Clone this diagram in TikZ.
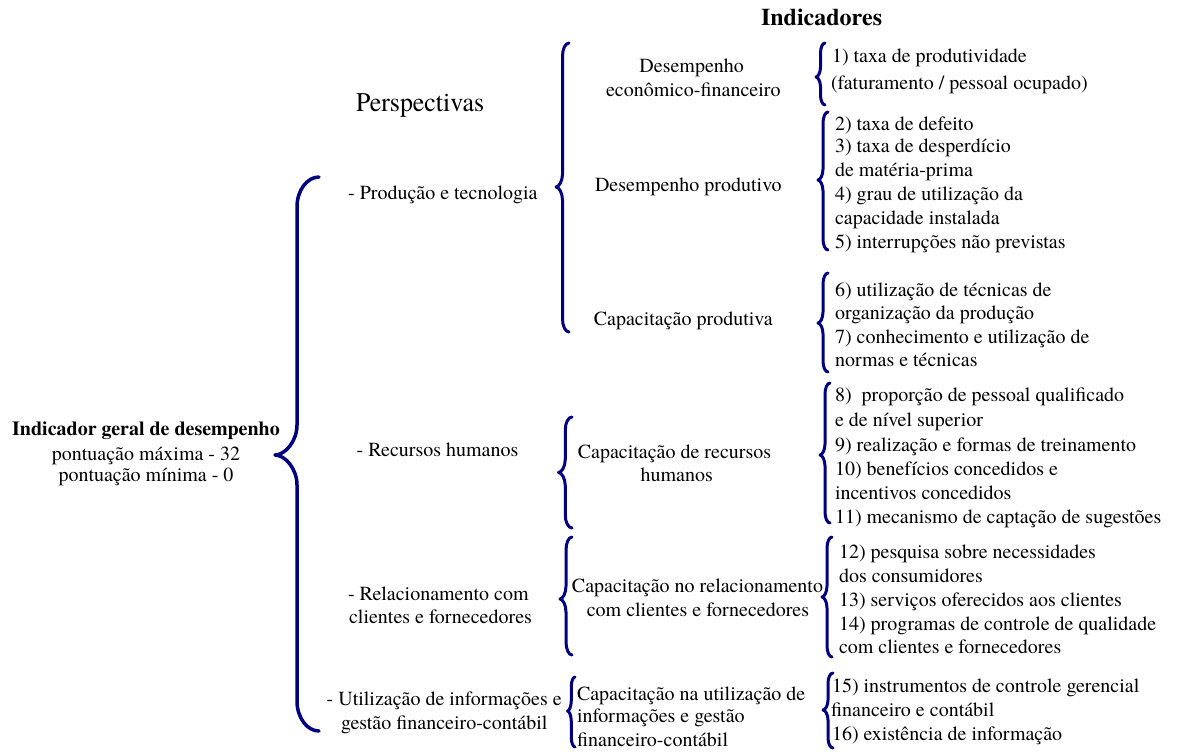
\documentclass[tikz,border=0pt]{standalone}
\usepackage{fontspec}
\setmainfont{TeX Gyre Termes}
\definecolor{bracenavy}{RGB}{0,0,128}

% Curly brace opening to the right: tip x, top y, bottom y, tip y, end x, curl radius
\newcommand{\bracepath}[7][]{%
  \pgfmathsetmacro{\bxm}{(#2+#6)/2}%
  \pgfmathsetmacro{\bdx}{(#6-#2)/2}%
  \draw[brace line,#1] (#6,#3)
    .. controls ({\bxm+0.45*\bdx},#3) and (\bxm,{#3+0.45*#7}) .. (\bxm,{#3+#7})
    -- (\bxm,{#5-#7})
    .. controls (\bxm,{#5-0.45*#7}) and ({#2+0.45*\bdx},#5) .. (#2,#5)
    .. controls ({#2+0.45*\bdx},#5) and (\bxm,{#5+0.45*#7}) .. (\bxm,{#5+#7})
    -- (\bxm,{#4-#7})
    .. controls (\bxm,{#4-0.45*#7}) and ({\bxm+0.45*\bdx},#4) .. (#6,#4);
}

\begin{document}
\begin{tikzpicture}[x=1pt,y=-1pt,
  brace line/.style={draw=bracenavy,line width=3pt,line cap=round,line join=round},
  txt/.style={inner sep=0pt,outer sep=0pt,font=\fontsize{20}{23}\selectfont},
  ctr/.style={txt,anchor=base},
  lft/.style={txt,anchor=base west}]
\useasboundingbox (0,0) rectangle (1180,753);

% headings
\node[txt,anchor=base west,font=\fontsize{24}{28}\selectfont\bfseries] (hind) at (761,25) {Indicadores};
\node[txt,anchor=base west,font=\fontsize{27}{30}\selectfont] (hper) at (356,111.7) {\scalebox{0.96}[1]{Perspectivas}};

% overall indicator
\node[ctr,font=\fontsize{20}{23}\selectfont\bfseries] (g1) at (146,435) {Indicador geral de desempenho};
\node[ctr] (g2) at (146,460) {pontuação máxima - 32};
\node[ctr] (g3) at (146,481.7) {pontuação mínima - 0};

% perspectives
\node[ctr] (p1) at (442.8,199.3) {- Produção e tecnologia};
\node[ctr] (p2) at (437.5,456.7) {- Recursos humanos};
\node[ctr] (p3a) at (438.3,600) {- Relacionamento com};
\node[ctr] (p3b) at (440.5,623.3) {clientes e fornecedores};
\node[ctr] (p4a) at (444.2,705) {- Utilização de informações e};
\node[ctr] (p4b) at (444.2,729.3) {gestão financeiro-contábil};

% sub-perspectives
\node[ctr] (s1a) at (691.7,72.7) {Desempenho};
\node[ctr] (s1b) at (693.3,96.7) {econômico-financeiro};
\node[ctr] (s2) at (688.3,191.7) {Desempenho produtivo};
\node[ctr] (s3) at (683.3,325) {Capacitação produtiva};
\node[ctr] (s4a) at (674.5,458.3) {Capacitação de recursos};
\node[ctr] (s4b) at (676.7,481) {humanos};
\node[ctr] (s5a) at (697.5,592.7) {Capacitação no relacionamento};
\node[ctr] (s5b) at (698,616.7) {com clientes e fornecedores};
\node[lft] (s6a) at (577,700) {Capacitação na utilização de};
\node[lft] (s6b) at (577,722.7) {informações e gestão};
\node[lft] (s6c) at (577,746.7) {financeiro-contábil};

% indicators
\node[lft] (i1a) at (832,62.7) {1) taxa de produtividade};
\node[lft] (i1b) at (831,89.3) {(faturamento / pessoal ocupado)};

\node[lft] (i2a) at (835,130) {2) taxa de defeito};
\node[lft] (i2b) at (835,152.7) {3) taxa de desperdício};
\node[lft] (i2c) at (835,176.7) {de matéria-prima};
\node[lft] (i2d) at (835,200.7) {4) grau de utilização da};
\node[lft] (i2e) at (835,224.3) {capacidade instalada};
\node[lft] (i2f) at (835,248.3) {5) interrupções não previstas};

\node[lft] (i3a) at (835,296.7) {6) utilização de técnicas de};
\node[lft] (i3b) at (835,319.3) {organização da produção};
\node[lft] (i3c) at (835,343.3) {7) conhecimento e utilização de};
\node[lft] (i3d) at (835,366.7) {normas e técnicas};

\node[lft] (i4a) at (835,401.7) {8)\ \ proporção de pessoal qualificado};
\node[lft] (i4b) at (835,426.7) {e de nível superior};
\node[lft] (i4c) at (835,451) {9) realização e formas de treinamento};
\node[lft] (i4d) at (835,475) {10) benefícios concedidos e};
\node[lft] (i4e) at (835,499.3) {incentivos concedidos};
\node[lft] (i4f) at (835,523.3) {11) mecanismo de captação de sugestões};

\node[lft] (i5a) at (839,558.3) {12) pesquisa sobre necessidades};
\node[lft] (i5b) at (839,582.3) {dos consumidores};
\node[lft] (i5c) at (839,606) {13) serviços oferecidos aos clientes};
\node[lft] (i5d) at (839,630) {14) programas de controle de qualidade};
\node[lft] (i5e) at (839,653.3) {com clientes e fornecedores};

\node[lft] (i6a) at (832,692.7) {15) instrumentos de controle gerencial};
\node[lft] (i6b) at (831,716.7) {financeiro e contábil};
\node[lft] (i6c) at (832,740.7) {16) existência de informação};

% braces
\bracepath[line width=3.5pt]{275}{177}{731}{455}{319}{30}
\bracepath{556}{43}{332}{187}{569}{13}
\bracepath{558.5}{417}{528}{472.5}{572}{13}
\bracepath{560}{537}{655}{599}{572}{13}
\bracepath{567.5}{677}{747}{711}{575}{10}

\bracepath{816}{43}{105}{77}{825}{10}
\bracepath{818}{112}{250}{180}{828}{11}
\bracepath{818}{273}{372}{323}{828}{11}
\bracepath{820}{383}{523}{455}{830}{11}
\bracepath{822}{537}{657}{597}{832}{11}
\bracepath{823}{673}{748}{710}{833}{10}
\end{tikzpicture}
\end{document}
